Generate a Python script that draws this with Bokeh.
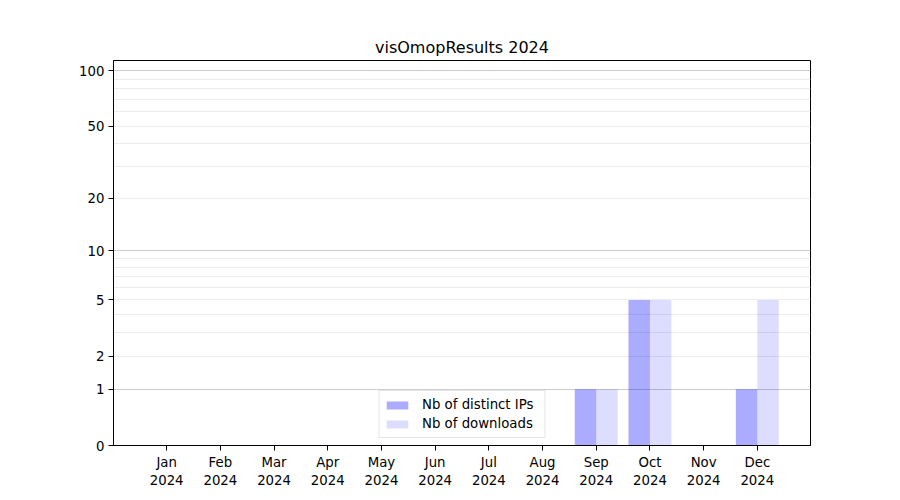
import numpy as np
from bokeh.plotting import figure
from bokeh.models import ColumnDataSource, Range1d, FixedTicker, CustomJSTickFormatter, Legend, LegendItem
from bokeh.embed import file_html
from bokeh.resources import INLINE

# ---- data ----
months = ["Jan", "Feb", "Mar", "Apr", "May", "Jun", "Jul", "Aug", "Sep", "Oct", "Nov", "Dec"]
year_label = "2024"
distinct_ips = [0, 0, 0, 0, 0, 0, 0, 0, 1, 5, 0, 1]
downloads = [0, 0, 0, 0, 0, 0, 0, 0, 1, 5, 0, 5]
y_tick_values = [0, 1, 2, 5, 10, 20, 50, 100]
y_major_grid = [1, 10, 100]
y_minor_grid = [2, 3, 4, 5, 6, 7, 8, 9, 20, 30, 40, 50, 60, 70, 80, 90]
title_text = "visOmopResults 2024"
y_max_value = 113.4


def tr(v):
    return np.log10(np.asarray(v, dtype=float) + 1.0)


idx = np.arange(len(months))
src = ColumnDataSource(dict(
    x_ip=idx - 0.2,
    x_dl=idx + 0.2,
    ip=tr(distinct_ips),
    dl=tr(downloads),
))

FONT = "DejaVu Sans"

p = figure(width=900, height=500, output_backend="svg", toolbar_location=None,
           x_range=Range1d(-0.99, 11.99), y_range=Range1d(0, float(tr(y_max_value))),
           min_border_left=113, min_border_right=90, min_border_top=60, min_border_bottom=55)

p.title.text = title_text
p.title.align = "center"
p.title.text_font = FONT
p.title.text_font_size = "16px"
p.title.text_font_style = "normal"
p.title.text_color = "black"
p.title.standoff = 7

r_ip = p.vbar(x="x_ip", width=0.4, top="ip", bottom=0, source=src,
              fill_color="blue", fill_alpha=0.33, line_color=None)
r_dl = p.vbar(x="x_dl", width=0.4, top="dl", bottom=0, source=src,
              fill_color="blue", fill_alpha=0.135, line_color=None)

# axes
p.xaxis.ticker = FixedTicker(ticks=list(range(len(months))), minor_ticks=[])
p.xaxis.major_label_overrides = {i: f"{m}\n{year_label}" for i, m in enumerate(months)}
p.yaxis.ticker = FixedTicker(ticks=[float(t) for t in tr(y_tick_values)], minor_ticks=[])
p.yaxis.formatter = CustomJSTickFormatter(code="return String(Math.round(Math.pow(10, tick) - 1));")

for ax in (p.xaxis[0], p.yaxis[0]):
    ax.axis_line_color = "black"
    ax.axis_line_width = 1
    ax.major_tick_line_color = "black"
    ax.major_tick_in = 0
    ax.major_tick_out = 5
    ax.minor_tick_line_color = None
    ax.major_label_text_font = FONT
    ax.major_label_text_font_size = "13.3px"
    ax.major_label_text_color = "black"
    ax.major_label_standoff = 4

p.outline_line_color = "black"
p.outline_line_width = 1
p.outline_line_alpha = 1

p.xgrid.grid_line_color = None
p.ygrid.ticker = FixedTicker(ticks=[float(t) for t in tr(y_major_grid)],
                             minor_ticks=[float(t) for t in tr(y_minor_grid)])
p.ygrid.grid_line_color = "#cccccc"
p.ygrid.grid_line_width = 1
p.ygrid.minor_grid_line_color = "#ececec"
p.ygrid.minor_grid_line_width = 1

legend = Legend(items=[LegendItem(label="Nb of distinct IPs", renderers=[r_ip]),
                       LegendItem(label="Nb of downloads", renderers=[r_dl])],
                location="bottom_center")
legend.label_text_font = FONT
legend.label_text_font_size = "13.3px"
legend.label_text_color = "black"
legend.glyph_width = 27
legend.glyph_height = 10
legend.label_height = 19
legend.label_width = 118
legend.label_standoff = 12
legend.padding = 4
legend.spacing = 0
legend.margin = 7
legend.border_line_color = "#cccccc"
legend.border_line_width = 1
legend.background_fill_alpha = 0.8
p.add_layout(legend)

open("out.html", "w").write(file_html(p, INLINE))
